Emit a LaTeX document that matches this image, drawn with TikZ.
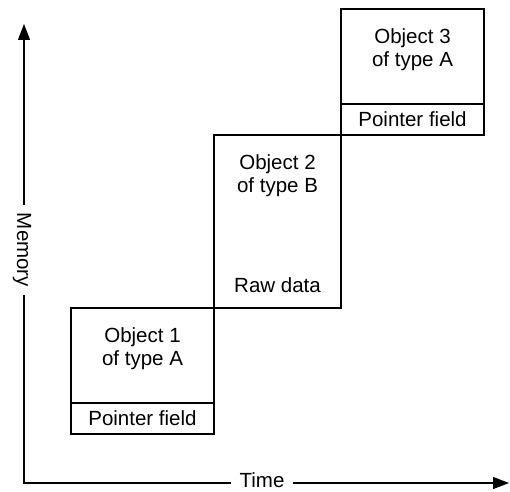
\documentclass[tikz,border=0pt]{standalone}
\usepackage{fontspec}
\setmainfont{Liberation Sans}
\usetikzlibrary{positioning, arrows.meta}
\tikzstyle{objbox} = [rectangle,
minimum width=143pt,
minimum height=95pt,
inner sep=0pt,
outer sep=0pt,
draw=black,
line width=1.2pt]
\tikzstyle{ptrbox} = [objbox,
minimum height=31pt]
\tikzstyle{rawbox} = [objbox,
minimum width=127pt,
minimum height=173pt]
\tikzstyle{objtext} = [align=center, inner sep=0pt, outer sep=0pt]
\tikzstyle{axislabel} = [inner xsep=8pt, inner ysep=0pt]
\tikzstyle{axis} = [line width=1.2pt,-{Triangle[length=16pt, width=12pt]}]

\begin{document}
\begin{tikzpicture}[x=1pt, y=1pt, node distance=0pt,
  font=\fontsize{20.5}{23}\selectfont]
\useasboundingbox (0,0) rectangle (510,491);

\node (obj1) [objbox] at (142.5,135.5) {};
\node (ptr1) [ptrbox, below=of obj1] {Pointer field};
\node (obj2) [rawbox, above right=of obj1] {};
\node (ptr3) [ptrbox, above right=of obj2] {Pointer field};
\node (obj3) [objbox, above=of ptr3] {};

\node (txt1) [objtext, below=20pt of obj1.north] {Object 1\\of type A};
\node (txt2) [objtext, below=20pt of obj2.north] {Object 2\\of type B};
\node (raw2) [objtext, above=15pt of obj2.south] {Raw data};
\node (txt3) [objtext, below=20pt of obj3.north] {Object 3\\of type A};

% axes
\coordinate (origin) at (24,8);
\coordinate (memtop) at (24,467);
\coordinate (timeend) at (509,8);
\node (memory) [axislabel, rotate=-90] at (22,241) {Memory};
\node (time) [axislabel] at (262,11) {Time};

\draw [line width=1.2pt] (origin |- memory.east) -- (origin) -- (time.west |- origin);
\draw [axis] (origin |- memory.west) -- (memtop);
\draw [axis] (time.east |- origin) -- (timeend);

\end{tikzpicture}
\end{document}
